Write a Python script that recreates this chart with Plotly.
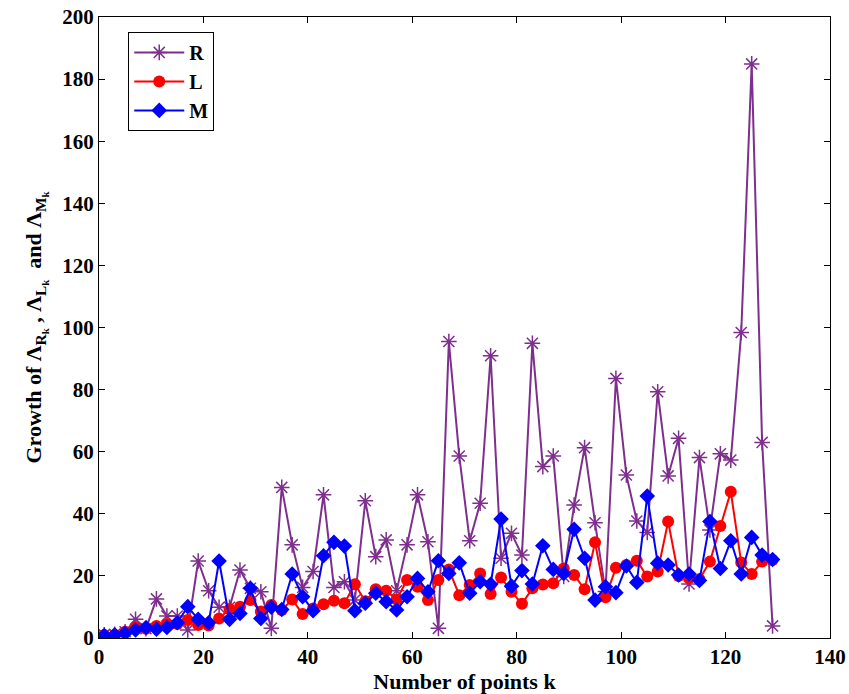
import plotly.graph_objects as go

k = list(range(1, 130, 2))

R = [1, 1.2, 2, 6.0, 3, 12.6, 7.1, 7.1, 2.6, 24.8, 15.2, 9.9, 9.9, 21.9, 16, 14.9, 3.1,
     48.5, 30.0, 16.3, 21.4, 46.1, 16.3, 18.1, 12.2, 44.2, 26.2, 31.6, 15.2, 30.0, 46.1,
     31.0, 3.1, 95.5, 58.6, 31.3, 43.4, 90.9, 25.7, 33.7, 26.7, 94.9, 55.2, 58.6, 19.8,
     42.8, 61.3, 37.1, 15, 83.6, 52.5, 37.7, 34.0, 79.3, 52.2, 64.3, 17.4, 58.1, 34.8,
     59.3, 57.3, 98.4, 184.9, 63.0, 3.9]

L = [1, 1, 2, 3.3, 3, 3.9, 4.5, 4.5, 5.8, 4.2, 4.0, 6.3, 9.3, 10.1, 12.2, 8.5, 10.6,
     9.0, 12.4, 7.7, 9.5, 10.9, 12.0, 11.2, 17.3, 11.8, 15.7, 15.2, 12.4, 18.7, 16.5,
     12.2, 18.7, 22.1, 13.8, 17.1, 20.8, 14.2, 19.5, 14.9, 11.0, 16.0, 17.2, 17.6, 22.4,
     20.3, 15.7, 30.8, 13.1, 22.6, 23.5, 24.9, 19.8, 21.4, 37.5, 20.0, 19.2, 18.9, 24.6,
     36.1, 47.1, 24.3, 20.6, 24.6, 25.1]

M = [0.8, 1, 1.5, 2.6, 3.4, 2.8, 3.4, 4.9, 10.1, 6.0, 4.9, 24.8, 6.0, 7.9, 16.0, 6.3, 9.9,
     9.2, 20.6, 13.3, 8.8, 26.5, 30.8, 29.6, 8.8, 11.2, 14.4, 11.7, 9.0, 13.3, 19.2,
     14.9, 24.9, 20.8, 24.2, 14.4, 18.1, 17.3, 38.3, 16.7, 21.7, 17.4, 29.7, 22.1, 20.8,
     35.0, 25.7, 12.2, 16.5, 14.6, 23.2, 17.9, 45.7, 24.1, 23.5, 20.3, 20.6, 18.5, 37.5,
     22.4, 31.3, 20.6, 32.4, 26.7, 25.3]

x_ticks = [0, 20, 40, 60, 80, 100, 120, 140]
y_ticks = [0, 20, 40, 60, 80, 100, 120, 140, 160, 180, 200]

purple = "#7E2F8E"
fig = go.Figure()
fig.add_trace(go.Scatter(x=k, y=R, name="R", mode="lines+markers",
                         line=dict(color=purple, width=2),
                         marker=dict(symbol="asterisk-open", size=13,
                                     line=dict(color=purple, width=1.5), color=purple)))
fig.add_trace(go.Scatter(x=k, y=L, name="L", mode="lines+markers",
                         line=dict(color="#FF0000", width=2),
                         marker=dict(symbol="circle", size=12, color="#FF0000")))
fig.add_trace(go.Scatter(x=k, y=M, name="M", mode="lines+markers",
                         line=dict(color="#0000FF", width=2),
                         marker=dict(symbol="diamond", size=12, color="#0000FF")))

font_family = "Liberation Serif"
axis_common = dict(showline=True, linecolor="black", linewidth=1, mirror="allticks",
                   ticks="inside", ticklen=6, tickcolor="black", showgrid=False,
                   zeroline=False, automargin=False,
                   tickfont=dict(family=font_family, size=21, color="black", weight="bold"))

fig.update_layout(
    width=849, height=694,
    margin=dict(l=99, r=19, t=17, b=56, autoexpand=False),
    paper_bgcolor="white", plot_bgcolor="white",
    xaxis=dict(range=[0, 140], tickvals=x_ticks,
               title=dict(text="<b>Number of points k</b>", standoff=2,
                          font=dict(family=font_family, size=22, color="black")),
               **axis_common),
    yaxis=dict(range=[0, 200], tickvals=y_ticks,
               title=dict(text="<b>Growth of Λ<sub>R<sub>k</sub></sub> , Λ<sub>L<sub>k</sub></sub>  and Λ<sub>M<sub>k</sub></sub></b>",
                          standoff=14,
                          font=dict(family=font_family, size=22, color="black")),
               **axis_common),
    legend=dict(x=0.04, y=0.976, xanchor="left", yanchor="top",
                bgcolor="white", bordercolor="black", borderwidth=1,
                itemwidth=50,
                font=dict(family=font_family, size=20, color="black", weight="bold")),
    showlegend=True,
)

fig.write_html("out.html")
